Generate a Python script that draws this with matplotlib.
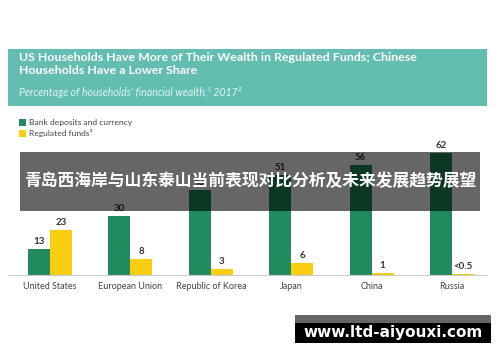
import numpy as np
import matplotlib
matplotlib.use("Agg")
import matplotlib.pyplot as plt
from matplotlib.patches import Rectangle

plt.rcParams["font.family"] = ["Lato", "DejaVu Sans"]

countries = ["United States", "European Union", "Republic of Korea", "Japan", "China", "Russia"]
bank_deposits = [13, 30, 43, 51, 56, 62]
regulated_funds = [23, 8, 3, 6, 1, 0.3]
bank_labels = ["13", "30", "43", "51", "56", "62"]
fund_labels = ["23", "8", "3", "6", "1", "<0.5"]

TITLE = "US Households Have More of Their Wealth in Regulated Funds; Chinese\nHouseholds Have a Lower Share"
SUBTITLE = "Percentage of households\u2019 financial wealth,\u00b9 2017\u00b2"
BANNER = "青岛西海岸与山东泰山当前表现对比分析及未来发展趋势展望"
WATERMARK = "www.ltd-aiyouxi.com"

GREEN = "#218a5e"
YELLOW = "#f9cd10"
TEAL = "#63beb1"

W, H = 500, 362


def fx(x):
    return x / W


def fy(y):
    return 1 - y / H


fig = plt.figure(figsize=(5, 3.62), dpi=100)
fig.patch.set_facecolor("white")

# header block
fig.add_artist(Rectangle((fx(8), fy(106)), fx(479), 57 / H, transform=fig.transFigure,
                         facecolor=TEAL, edgecolor="none"))
fig.text(fx(19), fy(52), TITLE, color="white", fontsize=8.9, fontweight="bold",
         va="top", ha="left", linespacing=1.2)
fig.text(fx(19), fy(92), SUBTITLE, color="#dff3ef", fontsize=7.6, style="italic",
         va="center", ha="left")

# legend
for i, (lab, col) in enumerate([("Bank deposits and currency", GREEN), ("Regulated funds\u00b3", YELLOW)]):
    yc = 122 + i * 11
    fig.add_artist(Rectangle((fx(19), fy(yc + 3.5)), fx(7), 7 / H, transform=fig.transFigure,
                             facecolor=col, edgecolor="none"))
    fig.text(fx(29), fy(yc), lab, color="#444444", fontsize=6.1, va="center", ha="left")

# bar chart
step = 80.4
left_px, right_px = 8, 487
ax = fig.add_axes([fx(left_px), fy(275), fx(right_px - left_px), 135 / H])
x = np.arange(len(countries))
bw = 22 / step
ax.bar(x - bw / 2, bank_deposits, bw, color=GREEN)
ax.bar(x + bw / 2, regulated_funds, bw, color=YELLOW)
for xi, v, lab in zip(x, bank_deposits, bank_labels):
    ax.text(xi - bw / 2, v + 1.5, lab, ha="center", va="bottom", fontsize=7,
            fontweight="bold", color="#333333")
for xi, v, lab in zip(x, regulated_funds, fund_labels):
    ax.text(xi + bw / 2, v + 1.5, lab, ha="center", va="bottom", fontsize=7,
            fontweight="bold", color="#333333")
ax.set_xlim((left_px - 50) / step, (right_px - 50) / step)
ax.set_ylim(0, 135 / 1.97)
ax.set_xticks(x)
ax.set_xticklabels(countries, fontsize=6.5, color="#444444")
ax.tick_params(axis="x", length=0, pad=5)
ax.set_yticks([])
for s in ["top", "right", "left"]:
    ax.spines[s].set_visible(False)
ax.spines["bottom"].set_color("#cccccc")
ax.spines["bottom"].set_linewidth(0.8)
ax.set_facecolor("none")

# overlay banner
fig.add_artist(Rectangle((fx(20), fy(211)), fx(460), 59 / H, transform=fig.transFigure,
                         facecolor="black", alpha=0.6, edgecolor="none", zorder=10))
fig.text(0.5, fy(181), BANNER, color="white", fontsize=12.1, fontweight="bold",
         ha="center", va="center", family=["Noto Sans CJK SC", "DejaVu Sans"], zorder=11)

# watermark
fig.add_artist(Rectangle((fx(295), fy(323)), fx(196), 8 / H, transform=fig.transFigure,
                         facecolor="#666666", edgecolor="none", zorder=10))
fig.add_artist(Rectangle((fx(295), fy(343)), fx(196), 20 / H, transform=fig.transFigure,
                         facecolor="black", edgecolor="none", zorder=10))
fig.text(fx(393), fy(333), WATERMARK, color="white", fontsize=11, fontweight="bold",
         ha="center", va="center", family=["DejaVu Sans"], zorder=11)

fig.savefig("out.png", dpi=100)
